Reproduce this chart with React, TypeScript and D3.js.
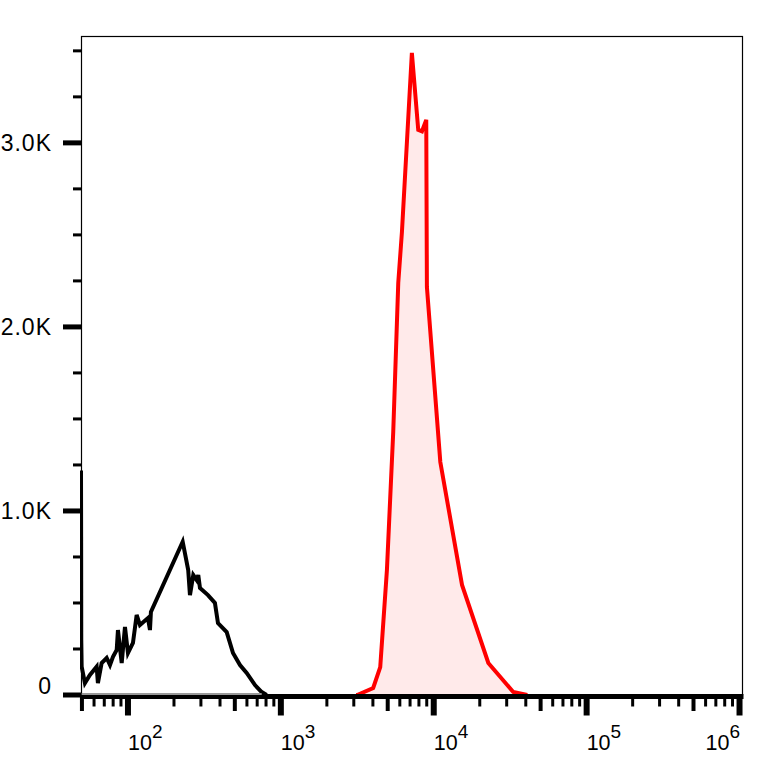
import React from "react";
import * as d3 from "d3";

const W = 766;
const H = 776;

const xDomain: [number, number] = [49.3, 1.038e6];
const yDomain: [number, number] = [0, 3578];

// Control (isotype) histogram, black
const controlX = [49.3, 49.4, 49.5, 49.8, 52.3, 56.4, 62.4, 63.6, 67.3, 72.6, 76.3, 79.8, 84.4, 86.0, 91.0, 95.6, 100, 107.8, 114, 119.8, 135.1, 139.3, 141.3, 228, 247.8, 254.4, 267.4, 281.4, 288.3, 295.8, 333.7, 370.5, 387.9, 442.4, 486.4, 540.5, 597.6, 677.3, 749.4, 807.5];
const controlY = [1220, 860, 300, 154, 65, 109, 154, 65, 174, 201, 163, 207, 245, 353, 174, 370, 228, 283, 435, 380, 418, 353, 451, 833, 679, 543, 652, 625, 652, 582, 543, 500, 391, 342, 228, 163, 120, 54, 16, 0];

// Stained histogram, red
const stainedX = [3100, 3155, 4018, 4467, 4940, 5433, 5860, 6194, 7194, 7918, 8373, 8933, 9021, 11040, 15310, 22750, 33110, 40930];
const stainedY = [0, 0, 38, 152, 679, 1429, 2239, 2516, 3489, 3071, 3063, 3125, 2217, 1266, 598, 174, 16, 0];

const yMajorTicks = [0, 1000, 2000, 3000];
const yTickLabels = ["0", "1.0K", "2.0K", "3.0K"];
const yMinorTicks = [250, 500, 750, 1250, 1500, 1750, 2250, 2500, 2750, 3250, 3500];
const xDecades = [2, 3, 4, 5, 6];
const xMultipliers = [1, 2, 3, 4, 5, 6, 7, 8, 9];

const FONT = "Arial, 'Liberation Sans', sans-serif";

export default function App() {
  const m = { left: 81, right: 742, top: 36.5, bottom: 695 };
  const xs = d3.scaleLog().domain(xDomain).range([m.left, m.right]);
  const ys = d3.scaleLinear().domain(yDomain).range([m.bottom, m.top]);

  const control = controlX.map((x, i) => [x, controlY[i]] as [number, number]);
  const stained = stainedX.map((x, i) => [x, stainedY[i]] as [number, number]);

  const line = d3
    .line<[number, number]>()
    .x((d) => xs(d[0]))
    .y((d) => ys(d[1]));
  const area = d3
    .area<[number, number]>()
    .x((d) => xs(d[0]))
    .y0(ys(0))
    .y1((d) => ys(d[1]));

  const xTicks: { v: number; kind: number }[] = [];
  for (let e = 1; e <= 6; e++) {
    for (const mu of xMultipliers) {
      const v = mu * Math.pow(10, e);
      if (v >= xDomain[0] * 0.999 && v <= xDomain[1]) {
        xTicks.push({ v, kind: mu === 1 ? 2 : mu === 5 ? 1 : 0 });
      }
    }
  }
  const tickLen = [10, 14.5, 19];
  const tickW = [3, 4, 6];

  const axisY = ys(0) + 1.5;

  return (
    <svg
      width={W}
      height={H}
      style={{ position: "absolute", left: 0, top: 0, display: "block", background: "#fff" }}
    >
      <defs>
        <clipPath id="plotClip">
          <rect x={m.left - 1} y={m.top} width={m.right - m.left + 1} height={m.bottom - m.top + 4} />
        </clipPath>
      </defs>
      <rect x={0} y={0} width={W} height={H} fill="#fff" />

      {/* frame */}
      <rect
        x={m.left + 0.5}
        y={m.top}
        width={m.right - m.left}
        height={m.bottom - m.top}
        fill="none"
        stroke="#000"
        strokeWidth={1.2}
      />

      <g clipPath="url(#plotClip)">
        <path d={area(stained) || ""} fill="#ffeaea" stroke="none" />
        <path d={line(stained) || ""} fill="none" stroke="#ff0000" strokeWidth={4} strokeLinejoin="miter" />
        <path d={line(control) || ""} fill="none" stroke="#000" strokeWidth={4} strokeLinejoin="miter" />
      </g>

      {/* bottom axis */}
      <line x1={m.left} x2={m.right + 1.5} y1={axisY} y2={axisY} stroke="#000" strokeWidth={5} />
      <line
        x1={xs(controlX[3])}
        x2={xs(controlX[controlX.length - 2])}
        y1={ys(0) - 1}
        y2={ys(0) - 1}
        stroke="#999"
        strokeWidth={2}
      />

      {/* x ticks */}
      {xTicks.map((t, i) => (
        <line
          key={"xt" + i}
          x1={xs(t.v)}
          x2={xs(t.v)}
          y1={axisY}
          y2={axisY + tickLen[t.kind]}
          stroke="#000"
          strokeWidth={tickW[t.kind]}
        />
      ))}

      {/* x labels */}
      {xDecades.map((e, i) => {
        const last = i === xDecades.length - 1;
        const x = last ? m.right - 2 : xs(Math.pow(10, e));
        return (
          <text
            key={"xl" + e}
            x={x}
            y={750}
            fontFamily={FONT}
            fontSize={21.5}
            textAnchor={last ? "end" : "start"}
            fill="#000"
          >
            10
            <tspan fontSize={19} dy={-12.5}>
              {e}
            </tspan>
          </text>
        );
      })}

      {/* y ticks */}
      {yMinorTicks.map((v) => (
        <line key={"ym" + v} x1={m.left - 8} x2={m.left} y1={ys(v)} y2={ys(v)} stroke="#000" strokeWidth={3} />
      ))}
      {yMajorTicks.map((v) => (
        <line key={"yM" + v} x1={m.left - 18} x2={m.left} y1={ys(v)} y2={ys(v)} stroke="#000" strokeWidth={5} />
      ))}
      {yMajorTicks.map((v, i) => (
        <text
          key={"yl" + v}
          x={52}
          y={Math.min(ys(v) + 8.5, m.bottom - 1.5)}
          fontFamily={FONT}
          fontSize={23}
          letterSpacing={1}
          textAnchor="end"
          fill="#000"
        >
          {yTickLabels[i]}
        </text>
      ))}
    </svg>
  );
}
